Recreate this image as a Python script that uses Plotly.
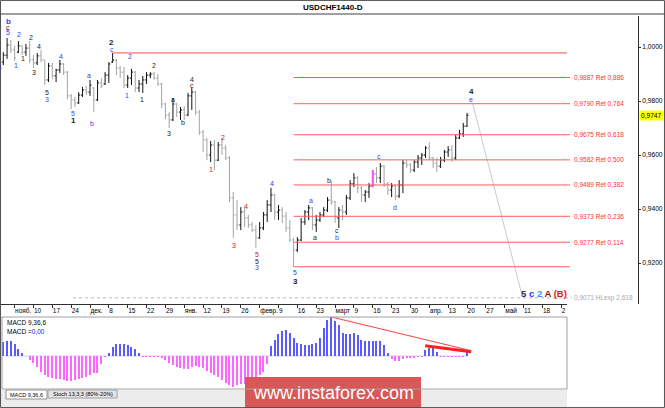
import plotly.graph_objects as go

FIG_W, FIG_H = 665, 408

# ---------------- price data (daily bars, index 0..123) ----------------
bars = list(range(124))
opens = [0.9944,0.9970,1.0007,0.9989,0.9981,1.0004,0.9981,0.9996,0.9952,0.9941,
         0.9967,0.9952,0.9878,0.9930,0.9893,0.9915,0.9937,0.9907,0.9819,0.9804,
         0.9793,0.9822,0.9841,0.9833,0.9848,0.9804,0.9867,0.9863,0.9896,0.9944,
         0.9952,0.9922,0.9907,0.9859,0.9885,0.9907,0.9848,0.9863,0.9878,0.9896,
         0.9900,0.9885,0.9863,0.9789,0.9748,0.9730,0.9789,0.9759,0.9767,0.9748,
         0.9819,0.9833,0.9759,0.9685,0.9656,0.9600,0.9637,0.9581,0.9637,0.9626,
         0.9589,0.9441,0.9378,0.9341,0.9389,0.9367,0.9341,0.9322,0.9293,0.9330,
         0.9378,0.9415,0.9452,0.9389,0.9396,0.9374,0.9330,0.9285,0.9248,0.9285,
         0.9352,0.9389,0.9404,0.9341,0.9359,0.9378,0.9396,0.9433,0.9426,0.9367,
         0.9396,0.9389,0.9441,0.9493,0.9515,0.9478,0.9452,0.9463,0.9485,0.9530,
         0.9515,0.9559,0.9493,0.9470,0.9485,0.9448,0.9489,0.9570,0.9563,0.9544,
         0.9574,0.9589,0.9600,0.9626,0.9589,0.9570,0.9559,0.9581,0.9611,0.9619,
         0.9589,0.9663,0.9678,0.9707]
highs = [0.9981,1.0033,1.0026,1.0004,1.0022,1.0007,1.0011,1.0022,0.9970,0.9978,
         0.9989,0.9952,0.9941,0.9941,0.9919,0.9952,0.9941,0.9911,0.9826,0.9815,
         0.9833,0.9852,0.9856,0.9878,0.9852,0.9878,0.9885,0.9907,0.9944,0.9978,
         0.9956,0.9930,0.9926,0.9896,0.9919,0.9911,0.9878,0.9893,0.9907,0.9907,
         0.9907,0.9900,0.9867,0.9793,0.9759,0.9811,0.9793,0.9778,0.9781,0.9830,
         0.9848,0.9837,0.9767,0.9693,0.9663,0.9652,0.9656,0.9648,0.9663,0.9637,
         0.9596,0.9463,0.9433,0.9407,0.9404,0.9378,0.9352,0.9341,0.9352,0.9389,
         0.9433,0.9478,0.9456,0.9415,0.9407,0.9389,0.9359,0.9293,0.9296,0.9367,
         0.9396,0.9415,0.9407,0.9378,0.9389,0.9407,0.9444,0.9504,0.9430,0.9407,
         0.9415,0.9452,0.9507,0.9533,0.9522,0.9485,0.9470,0.9496,0.9544,0.9555,
         0.9570,0.9563,0.9500,0.9496,0.9489,0.9507,0.9581,0.9581,0.9570,0.9581,
         0.9600,0.9607,0.9633,0.9648,0.9593,0.9589,0.9593,0.9619,0.9633,0.9637,
         0.9674,0.9693,0.9719,0.9756]
lows = [0.9933,0.9956,0.9978,0.9948,0.9978,0.9970,0.9967,0.9941,0.9922,0.9933,
        0.9944,0.9859,0.9870,0.9881,0.9870,0.9904,0.9896,0.9807,0.9770,0.9778,
        0.9789,0.9815,0.9822,0.9819,0.9759,0.9800,0.9848,0.9859,0.9867,0.9941,
        0.9896,0.9885,0.9848,0.9848,0.9859,0.9833,0.9833,0.9830,0.9863,0.9885,
        0.9878,0.9856,0.9774,0.9733,0.9700,0.9726,0.9741,0.9730,0.9730,0.9744,
        0.9767,0.9748,0.9674,0.9611,0.9581,0.9574,0.9544,0.9578,0.9600,0.9581,
        0.9426,0.9293,0.9322,0.9322,0.9333,0.9330,0.9315,0.9256,0.9289,0.9322,
        0.9352,0.9389,0.9359,0.9359,0.9348,0.9315,0.9278,0.9186,0.9241,0.9281,
        0.9341,0.9359,0.9322,0.9315,0.9352,0.9370,0.9389,0.9415,0.9348,0.9330,
        0.9359,0.9378,0.9433,0.9481,0.9459,0.9426,0.9426,0.9441,0.9481,0.9496,
        0.9496,0.9481,0.9452,0.9444,0.9433,0.9441,0.9459,0.9552,0.9533,0.9537,
        0.9552,0.9563,0.9589,0.9581,0.9552,0.9537,0.9552,0.9574,0.9593,0.9574,
        0.9581,0.9659,0.9667,0.9704]
closes = [0.9970,1.0007,0.9989,0.9959,1.0004,0.9981,0.9996,0.9952,0.9941,0.9967,
          0.9952,0.9878,0.9930,0.9893,0.9915,0.9937,0.9907,0.9819,0.9804,0.9793,
          0.9822,0.9841,0.9833,0.9859,0.9804,0.9867,0.9856,0.9896,0.9937,0.9952,
          0.9922,0.9907,0.9859,0.9885,0.9907,0.9848,0.9863,0.9878,0.9896,0.9900,
          0.9885,0.9863,0.9789,0.9748,0.9730,0.9789,0.9759,0.9767,0.9748,0.9819,
          0.9833,0.9759,0.9685,0.9656,0.9600,0.9637,0.9581,0.9637,0.9626,0.9589,
          0.9441,0.9378,0.9341,0.9389,0.9367,0.9341,0.9322,0.9293,0.9330,0.9378,
          0.9415,0.9452,0.9389,0.9396,0.9374,0.9330,0.9285,0.9248,0.9285,0.9352,
          0.9389,0.9404,0.9341,0.9359,0.9378,0.9396,0.9433,0.9426,0.9367,0.9396,
          0.9389,0.9441,0.9493,0.9515,0.9478,0.9452,0.9463,0.9485,0.9530,0.9515,
          0.9559,0.9493,0.9470,0.9485,0.9448,0.9489,0.9570,0.9563,0.9544,0.9574,
          0.9589,0.9600,0.9626,0.9589,0.9570,0.9559,0.9581,0.9611,0.9619,0.9589,
          0.9663,0.9678,0.9707,0.9747]
highlight_bars = [98]          # magenta-coloured bar
last_price = 0.9747

# MACD 9,36,6 histogram
macd_hist = [0.0014,0.0015,0.0015,0.0012,0.0007,0.0003,0.0000,
             -0.0004,-0.0007,-0.0011,-0.0016,-0.0019,-0.0021,-0.0022,-0.0023,-0.0023,-0.0024,
             -0.0025,-0.0025,-0.0024,-0.0023,-0.0022,-0.0021,-0.0019,-0.0017,-0.0017,-0.0008,-0.0001,
             0.0003,0.0009,0.0012,0.0012,0.0012,0.0011,0.0009,0.0007,0.0003,
             -0.0001,-0.0001,-0.0001,-0.0001,-0.0001,-0.0002,
             -0.0004,-0.0007,-0.0009,-0.0011,-0.0012,-0.0013,-0.0013,-0.0011,-0.0010,-0.0011,
             -0.0012,-0.0015,-0.0017,-0.0019,-0.0021,-0.0024,-0.0027,-0.0029,-0.0031,-0.0029,
             -0.0028,-0.0028,-0.0027,-0.0025,-0.0022,-0.0019,-0.0016,-0.0008,
             0.0010,0.0016,0.0022,0.0025,0.0026,0.0023,0.0018,0.0013,0.0012,0.0011,0.0011,
             0.0012,0.0013,0.0018,0.0028,0.0036,0.0039,0.0035,0.0031,0.0023,0.0022,0.0022,
             0.0023,0.0021,0.0016,0.0015,0.0015,0.0015,0.0015,0.0015,0.0011,0.0003,
             -0.0003,-0.0005,-0.0005,-0.0003,-0.0002,-0.0002,-0.0002,-0.0001,-0.0001,
             0.0006,0.0008,0.0008,0.0004,
             -0.0001,-0.0001,-0.0001,-0.0001,-0.0001,-0.0001,-0.0001,0.0004]
macd_trend_x = [87, 124.1]
macd_trend_y = [0.0039, 0.00053]
macd_trend2_x = [111.9, 124.1]
macd_trend2_y = [0.00103, 0.00043]

# date axis (one tick every 5 bars)
tick_bars = [3, 8, 13, 18, 23, 28, 33, 38, 43, 48, 53, 58, 63, 68, 73, 78, 83, 88,
             93, 98, 103, 108, 113, 118, 123, 128, 133, 138, 143, 148]
date_labels = ["нояб.", "10", "17", "24", "дек.", "8", "15", "22", "29", "янв.",
               "12", "19", "26", "февр.", "9", "16", "23", "март", "9", "16",
               "23", "30", "апр.", "13", "20", "27", "май", "11", "18", "2"]

price_ticks = [0.92, 0.94, 0.96, 0.98, 1.00]
price_tick_labels = ["0,9200", "0,9400", "0,9600", "0,9800", "1,0000"]

# Fibonacci retracement
fib_high, fib_high_bar = 0.9978, 29
fib_low, fib_low_bar = 0.9186, 77
fib_end_bar = 150.3
fib_levels = [0.9887, 0.9790, 0.9675, 0.9582, 0.9489, 0.9373, 0.9277]
fib_ratios = ["0,886", "0,764", "0,618", "0,500", "0,382", "0,236", "0,114"]
exp_level, exp_start_bar, exp_ratio = 0.9071, 18.5, "2,618"

forecast_x = [124.5, 137.6]
forecast_y = [0.9790, 0.9080]

# Elliott wave labels: text, bar, price, colour key, bold
wave_text = ["b", "c", "5", "1", "1", "2", "2", "1", "4", "3", "4", "5", "3", "5", "1", "b", "a",
             "2", "c", "2", "1", "1", "2", "4", "c", "a", "b", "3",
             "2", "1", "3", "4", "5", "5", "3", "4", "5", "3",
             "a", "a", "b", "c", "b", "c", "d", "4", "e"]
wave_bar = [1.25, 1.25, 1.25, -0.75, 3.4, 4.2, 7.3, 5.2, 9.5, 8.1, 15.3, 11.6, 11.6, 18.5, 18.5, 23.5, 22.7,
            28.8, 28.8, 33.6, 32.8, 36.8, 40.0, 50.1, 50.1, 45.0, 47.7, 43.9,
            58.3, 55.1, 61.2, 64.4, 67.3, 67.3, 67.3, 71.3, 77.4, 77.4,
            81.6, 82.7, 86.4, 88.5, 88.5, 99.7, 103.9, 124.1, 124.1]
wave_price = [1.0096, 1.0074, 1.0052, 0.9926, 0.9930, 1.0048, 1.0037, 0.9956, 1.0000, 0.9904, 0.9963,
              0.9830, 0.9804, 0.9752, 0.9726, 0.9715, 0.9893,
              1.0015, 0.9989, 0.9963, 0.9819, 0.9807, 0.9930, 0.9881, 0.9856, 0.9807, 0.9719, 0.9681,
              0.9663, 0.9548, 0.9263, 0.9411, 0.9233, 0.9207, 0.9185, 0.9496, 0.9163, 0.9130,
              0.9433, 0.9293, 0.9507, 0.9322, 0.9293, 0.9593, 0.9407, 0.9837, 0.9807]
wave_color = ["B", "K", "B", "B", "B", "B", "K", "K", "K", "K", "B", "K", "B", "B", "K", "B", "B",
              "K", "B", "B", "B", "K", "K", "K", "K", "K", "K", "K",
              "R", "R", "R", "R", "R", "K", "B", "B", "B", "K",
              "B", "K", "K", "K", "B", "B", "B", "K", "B"]
wave_bold = [1, 0, 0, 0, 0, 0, 0, 0, 0, 0, 0, 0, 0, 0, 1, 0, 0,
             1, 0, 0, 0, 0, 0, 0, 0, 0, 0, 0,
             0, 0, 0, 0, 0, 0, 0, 0, 0, 1,
             0, 0, 0, 0, 0, 0, 0, 1, 0]
palette = {"B": "#3b3bff", "K": "#1c1c1c", "R": "#b02a2a"}

# ---------------- geometry helpers (layout only) ----------------
BAR0_PX, BAR_PX = 3.3, 3.77
def px(x):
    return x / FIG_W
def py(y):
    return 1 - y / FIG_H

MAIN_RIGHT = 638
MAIN_TOP, MAIN_BOT = 16, 304
MACD_L, MACD_R, MACD_TOP, MACD_BOT = 2, 567, 317, 389

FONT = "Liberation Sans, Arial, sans-serif"

fig = go.Figure()

fig.add_trace(go.Ohlc(
    x=bars, open=opens, high=highs, low=lows, close=closes,
    increasing=dict(line=dict(color="#111111", width=1)),
    decreasing=dict(line=dict(color="#a4a4a4", width=1)),
    tickwidth=0.4, xaxis="x", yaxis="y", hoverinfo="skip", showlegend=False))

hb = highlight_bars
fig.add_trace(go.Ohlc(
    x=[bars[i] for i in hb], open=[opens[i] for i in hb], high=[highs[i] for i in hb],
    low=[lows[i] for i in hb], close=[closes[i] for i in hb],
    increasing=dict(line=dict(color="#ff55ff", width=2)),
    decreasing=dict(line=dict(color="#ff55ff", width=2)),
    tickwidth=0.4, xaxis="x", yaxis="y", hoverinfo="skip", showlegend=False))

# forecast line
fig.add_trace(go.Scatter(x=forecast_x, y=forecast_y, mode="lines",
                         line=dict(color="#c9c9d9", width=1), xaxis="x", yaxis="y",
                         hoverinfo="skip", showlegend=False))

# MACD histogram
fig.add_trace(go.Bar(
    x=bars, y=macd_hist, width=0.3,
    marker=dict(color=["#5a5aff" if v >= 0 else "#ff66ff" for v in macd_hist], line=dict(width=0)),
    xaxis="x2", yaxis="y2", hoverinfo="skip", showlegend=False))
fig.add_trace(go.Scatter(x=macd_trend_x, y=macd_trend_y, mode="lines",
                         line=dict(color="#ff4040", width=1), xaxis="x2", yaxis="y2",
                         hoverinfo="skip", showlegend=False))
fig.add_trace(go.Scatter(x=macd_trend2_x, y=macd_trend2_y, mode="lines",
                         line=dict(color="#ff2020", width=3), xaxis="x2", yaxis="y2",
                         hoverinfo="skip", showlegend=False))

shapes = []
annotations = []

# Fibonacci lines
shapes.append(dict(type="line", xref="x", yref="y", x0=fib_high_bar, x1=fib_end_bar - 0.8,
                   y0=fib_high, y1=fib_high, line=dict(color="#ff4a4a", width=1)))
for lv in fib_levels + [fib_low]:
    shapes.append(dict(type="line", xref="x", yref="y", x0=fib_low_bar, x1=fib_end_bar,
                       y0=lv, y1=lv, line=dict(color="#ff5a5a", width=1)))
shapes.append(dict(type="line", xref="x", yref="y", x0=exp_start_bar, x1=fib_end_bar + 0.5,
                   y0=exp_level, y1=exp_level, line=dict(color="#b8b8b8", width=1, dash="dot")))
for lv, r in zip(fib_levels, fib_ratios):
    annotations.append(dict(xref="x", yref="y", x=fib_end_bar + 0.6, y=lv,
                            text=f"{lv:.4f}".replace(".", ",") + " Ret " + r,
                            showarrow=False, xanchor="left", yanchor="middle",
                            font=dict(family=FONT, size=6.5, color="#ff3030")))
annotations.append(dict(xref="x", yref="y", x=fib_end_bar + 0.6, y=exp_level,
                        text=f"{exp_level:.4f}".replace(".", ",") + " HLexp " + exp_ratio,
                        showarrow=False, xanchor="left", yanchor="middle",
                        font=dict(family=FONT, size=6.5, color="#a8a8a8")))

# wave labels
for t, bx, pr, c, b in zip(wave_text, wave_bar, wave_price, wave_color, wave_bold):
    annotations.append(dict(xref="x", yref="y", x=bx, y=pr,
                            text=f"<b>{t}</b>" if b else t, showarrow=False,
                            xanchor="center", yanchor="middle",
                            font=dict(family=FONT, size=8 if b else 7, color=palette[c])))
annotations.append(dict(xref="x", yref="y", x=143.4, y=0.9087, showarrow=False,
                        xanchor="center", yanchor="middle",
                        text="<b><span style='color:#2a2a55'>5</span> <span style='color:#2b2bff'>c</span> "
                             "<span style='color:#2f9bff'>2</span> <span style='color:#9a1010'>A</span> "
                             "<span style='color:#e02020'>(B)</span></b>",
                        font=dict(family=FONT, size=9.5)))

# current price tag
annotations.append(dict(xref="paper", yref="y", x=px(639), y=last_price,
                        text=f"{last_price:.4f}".replace(".", ","), showarrow=False,
                        xanchor="left", yanchor="middle", bgcolor="#ffff00", borderpad=1,
                        font=dict(family=FONT, size=6.6, color="#000000")))

# title
annotations.append(dict(xref="paper", yref="paper", x=px(333), y=py(7), text="<b>USDCHF1440-D</b>",
                        showarrow=False, xanchor="center", yanchor="middle",
                        font=dict(family=FONT, size=8, color="#000000")))

# MACD captions
annotations.append(dict(xref="paper", yref="paper", x=px(5), y=py(322), text="MACD 9,36,6",
                        showarrow=False, xanchor="left", yanchor="middle",
                        font=dict(family=FONT, size=6.5, color="#000000")))
annotations.append(dict(xref="paper", yref="paper", x=px(5), y=py(331),
                        text="MACD =<span style='color:#2020ff'>0,00</span>",
                        showarrow=False, xanchor="left", yanchor="middle",
                        font=dict(family=FONT, size=6.5, color="#000000")))

# tabs
shapes.append(dict(type="rect", xref="paper", yref="paper", x0=px(1), x1=px(567), y0=py(407), y1=py(390),
                   fillcolor="#ececec", line=dict(width=0), layer="below"))
shapes.append(dict(type="rect", xref="paper", yref="paper", x0=px(6), x1=px(47), y0=py(399), y1=py(390),
                   fillcolor="#ffffff", line=dict(color="#909090", width=1)))
shapes.append(dict(type="rect", xref="paper", yref="paper", x0=px(48), x1=px(117), y0=py(398), y1=py(390),
                   fillcolor="#e4e4e4", line=dict(color="#a0a0a0", width=1)))
annotations.append(dict(xref="paper", yref="paper", x=px(26.5), y=py(394.5), text="MACD 9,36,6",
                        showarrow=False, xanchor="center", yanchor="middle",
                        font=dict(family=FONT, size=5.5, color="#000000")))
annotations.append(dict(xref="paper", yref="paper", x=px(82.5), y=py(394), text="Stoch 13,3,3 (80%-20%)",
                        showarrow=False, xanchor="center", yanchor="middle",
                        font=dict(family=FONT, size=5.5, color="#000000")))

# watermark
shapes.append(dict(type="rect", xref="paper", yref="paper", x0=px(245), x1=px(421), y0=py(408), y1=py(377),
                   fillcolor="#d95757", line=dict(width=0)))
annotations.append(dict(xref="paper", yref="paper", x=px(333), y=py(392.5), text="www.instaforex.com",
                        showarrow=False, xanchor="center", yanchor="middle",
                        font=dict(family=FONT, size=18, color="#ffffff")))

# frames and axis lines
shapes.append(dict(type="line", xref="paper", yref="paper", x0=0, x1=1, y0=py(14), y1=py(14),
                   line=dict(color="#a0a0a0", width=2)))
shapes.append(dict(type="line", xref="paper", yref="paper", x0=0, x1=px(567), y0=py(304.5), y1=py(304.5),
                   line=dict(color="#303030", width=1)))
shapes.append(dict(type="rect", xref="paper", yref="paper", x0=px(MACD_L), x1=px(MACD_R),
                   y0=py(MACD_BOT), y1=py(MACD_TOP), line=dict(color="#a0a0a0", width=1)))
shapes.append(dict(type="line", xref="x2", yref="y2", x0=0, x1=123, y0=0, y1=0,
                   line=dict(color="#d0d0f0", width=1), layer="below"))
shapes.append(dict(type="rect", xref="paper", yref="paper", x0=0.0008, x1=0.9992, y0=0.001, y1=0.999,
                   line=dict(color="#505050", width=1)))

main_range = [-BAR0_PX / BAR_PX, (MAIN_RIGHT - BAR0_PX) / BAR_PX]
macd_range = [(MACD_L - BAR0_PX) / BAR_PX, (MACD_R - BAR0_PX) / BAR_PX]
p_top = 1.0 + (47 - MAIN_TOP) / 2700
p_bot = 1.0 - (MAIN_BOT - 47) / 2700

fig.update_layout(
    width=FIG_W, height=FIG_H, margin=dict(l=0, r=0, t=0, b=0, autoexpand=False),
    paper_bgcolor="#ffffff", plot_bgcolor="#ffffff",
    showlegend=False, bargap=0,
    font=dict(family=FONT, size=7, color="#000000"),
    xaxis=dict(domain=[0, px(MAIN_RIGHT)], range=main_range, anchor="y", automargin=False,
               showgrid=False, zeroline=False, showline=False,
               rangeslider=dict(visible=False),
               tickmode="array", tickvals=tick_bars, ticktext=date_labels,
               ticks="outside", ticklen=3, tickcolor="#303030", tickangle=0,
               ticklabelposition="outside right",
               tickfont=dict(family=FONT, size=6.5, color="#000000")),
    yaxis=dict(domain=[py(MAIN_BOT), py(MAIN_TOP)], range=[p_bot, p_top], anchor="x",
               automargin=False,
               side="right", showgrid=False, zeroline=False,
               showline=True, linecolor="#303030", linewidth=1,
               tickmode="array", tickvals=price_ticks, ticktext=price_tick_labels,
               ticks="outside", ticklen=2, tickcolor="#303030",
               tickfont=dict(family=FONT, size=6.6, color="#000000")),
    xaxis2=dict(domain=[px(MACD_L), px(MACD_R)], range=macd_range, anchor="y2", automargin=False,
                showgrid=False, zeroline=False, showline=False, showticklabels=False, ticks=""),
    yaxis2=dict(domain=[py(MACD_BOT), py(MACD_TOP)], range=[-0.0033, 0.0039], anchor="x2",
                automargin=False,
                showgrid=False, zeroline=False, showline=False, showticklabels=False, ticks=""),
    shapes=shapes, annotations=annotations,
)

fig.write_html("out.html", config={"displayModeBar": False},
               post_script="document.body.style.margin='0';document.body.style.padding='0';")
